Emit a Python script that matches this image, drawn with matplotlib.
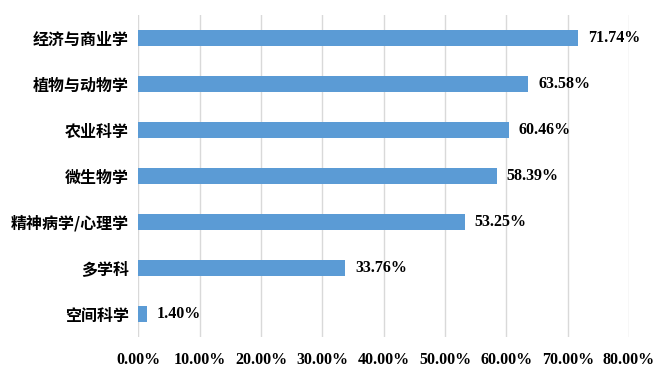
import matplotlib
matplotlib.use("Agg")
import matplotlib.pyplot as plt
from matplotlib.ticker import FuncFormatter

# data (top to bottom)
categories = ["经济与商业学", "植物与动物学", "农业科学", "微生物学",
              "精神病学/心理学", "多学科", "空间科学"]
values = [71.74, 63.58, 60.46, 58.39, 53.25, 33.76, 1.40]
xticks = [0, 10, 20, 30, 40, 50, 60, 70, 80]

BAR_COLOR = "#5B9BD5"
GRID_COLOR = "#D9D9D9"
num_font = ["Liberation Serif", "DejaVu Serif"]
cjk_font = ["Noto Sans CJK SC", "DejaVu Sans"]

fig = plt.figure(figsize=(6.62, 3.78), dpi=100)
ax = fig.add_axes([0.2092, 0.1085, 0.7410, 0.8515])

ypos = list(range(len(categories)))
ax.barh(ypos, values, height=0.35, color=BAR_COLOR, zorder=3)

for y, v in zip(ypos, values):
    ax.annotate(f"{v:.2f}%", xy=(v, y), xytext=(7, 0), textcoords="offset points",
                va="center", ha="left", fontsize=11.5, fontweight="bold",
                family=num_font, color="black")

ax.set_ylim(len(categories) - 0.5, -0.5)
ax.set_xlim(0, 80)
ax.set_yticks(ypos)
ax.set_yticklabels(categories, family=cjk_font, fontsize=11.5, fontweight="bold")
ax.set_xticks(xticks)
ax.xaxis.set_major_formatter(FuncFormatter(lambda x, p: f"{x:.2f}%"))
for lab in ax.get_xticklabels():
    lab.set_family(num_font)
    lab.set_fontweight("bold")
    lab.set_fontsize(11.5)

ax.tick_params(axis="y", length=0, pad=7)
ax.tick_params(axis="x", length=0, pad=11)
ax.grid(axis="x", color=GRID_COLOR, linewidth=1, zorder=0)
for s in ax.spines.values():
    s.set_visible(False)

fig.savefig("out.png", dpi=100)
